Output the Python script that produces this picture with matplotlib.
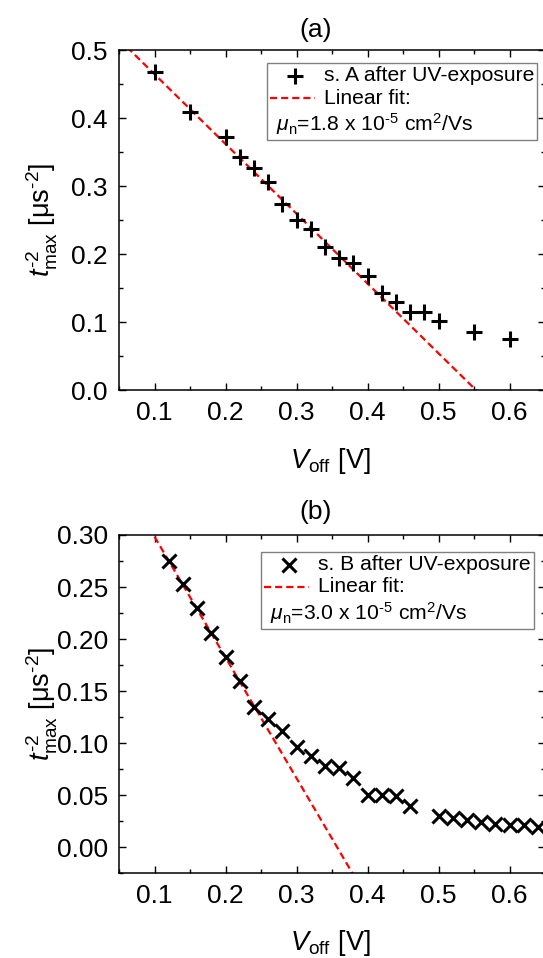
import matplotlib
matplotlib.use("Agg")
import matplotlib.pyplot as plt
from matplotlib.ticker import MultipleLocator, FormatStrFormatter
from matplotlib.offsetbox import AnchoredOffsetbox, VPacker, HPacker, TextArea, DrawingArea
from matplotlib.lines import Line2D
import numpy as np

plt.rcParams['font.family'] = ['Liberation Sans', 'DejaVu Sans']
plt.rcParams['mathtext.fontset'] = 'custom'
plt.rcParams['mathtext.rm'] = 'Liberation Sans'
plt.rcParams['mathtext.it'] = 'Liberation Sans:italic'
plt.rcParams['mathtext.bf'] = 'Liberation Sans:bold'

# (a) sample A after UV exposure
v_a = [0.10, 0.15, 0.20, 0.22, 0.24, 0.26, 0.28, 0.30, 0.32, 0.34,
       0.36, 0.38, 0.40, 0.42, 0.44, 0.46, 0.48, 0.50, 0.55, 0.60]
t_a = [0.467, 0.409, 0.372, 0.342, 0.326, 0.306, 0.274, 0.250, 0.237, 0.211,
       0.194, 0.187, 0.168, 0.142, 0.130, 0.115, 0.115, 0.101, 0.086, 0.075]
fit_a = (0.567, -1.026)   # intercept, slope
mu_a = '1.8'

# (b) sample B after UV exposure
v_b = [0.12, 0.14, 0.16, 0.18, 0.20, 0.22, 0.24, 0.26, 0.28, 0.30,
       0.32, 0.34, 0.36, 0.38, 0.40, 0.42, 0.44, 0.46,
       0.50, 0.52, 0.54, 0.56, 0.58, 0.60, 0.62, 0.64]
t_b = [0.275, 0.253, 0.230, 0.206, 0.183, 0.160, 0.135, 0.123, 0.112, 0.096,
       0.088, 0.078, 0.076, 0.067, 0.050, 0.050, 0.049, 0.040,
       0.030, 0.028, 0.026, 0.024, 0.022, 0.021, 0.021, 0.019]
fit_b = (0.4144, -1.160)
mu_b = '3.0'

FS = 19
LBS = 19.5
LFS = 15.2
W, H = 543, 958
px = 0.72  # pixel -> points at dpi 100

fig = plt.figure(figsize=(W / 100, H / 100), dpi=100)
ax1 = fig.add_axes([119 / W, (H - 390) / H, 426 / W, 340 / H])
ax2 = fig.add_axes([119 / W, (H - 873.3) / H, 426 / W, 338.3 / H])


def style(ax, ymaj, ymin, yfmt):
    ax.xaxis.set_major_locator(MultipleLocator(0.1))
    ax.xaxis.set_minor_locator(MultipleLocator(0.05))
    ax.yaxis.set_major_locator(MultipleLocator(ymaj))
    ax.yaxis.set_minor_locator(MultipleLocator(ymin))
    ax.xaxis.set_major_formatter(FormatStrFormatter('%.1f'))
    ax.yaxis.set_major_formatter(FormatStrFormatter(yfmt))
    ax.tick_params(which='both', direction='in', top=True, right=True,
                   labelsize=FS, width=1.0, pad=8)
    ax.tick_params(which='major', length=5)
    ax.tick_params(which='minor', length=3)
    for s in ax.spines.values():
        s.set_linewidth(1.1)
    ax.set_xlabel(r'$V_{\mathrm{off}}$ [V]', fontsize=LBS)
    ax.set_ylabel(r'$t_{\mathrm{max}}^{\text{-2}}$ [μs$^{\text{-2}}$]', fontsize=LBS)
    ax.yaxis.set_label_coords(-0.138, 0.5)


def legend_box(ax, marker, ms, label, mu, x0, y0):
    da1 = DrawingArea(48 * px, 18 * px)
    da1.add_artist(Line2D([25 * px], [9 * px], marker=marker, ms=ms, mew=2.2,
                          color='k', ls='none'))
    row1 = HPacker(children=[da1, TextArea(label, textprops=dict(fontsize=LFS))],
                   sep=6 * px, align='center')
    da2 = DrawingArea(48 * px, 18 * px)
    da2.add_artist(Line2D([0, 45 * px], [9 * px, 9 * px], color='red', lw=1.6,
                          ls=(0, (3.2, 1.8))))
    row2 = HPacker(children=[da2, TextArea('Linear fit:', textprops=dict(fontsize=LFS))],
                   sep=6 * px, align='center')
    sp = DrawingArea(6 * px, 2)
    row3 = HPacker(children=[sp, TextArea(r'$\mu_{\mathrm{n}}$=' + mu + r' x 10$^{\text{-5}}$ cm$^{2}$/Vs',
                                          textprops=dict(fontsize=LFS))],
                   sep=0, align='center')
    vp = VPacker(children=[row1, row2, row3], align='left', pad=3 * px, sep=3.5 * px)
    box = AnchoredOffsetbox(loc='upper left', child=vp, pad=0, borderpad=0,
                            frameon=True, bbox_to_anchor=(x0 / W, 1 - y0 / H),
                            bbox_transform=fig.transFigure)
    box.patch.set_edgecolor('0.5')
    box.patch.set_linewidth(1.0)
    ax.add_artist(box)


# panel (a)
xf = np.array([0.05, 0.60])
ax1.plot(xf, fit_a[0] + fit_a[1] * xf, color='red', lw=1.6, ls=(0, (3.2, 1.8)))
ax1.plot(v_a, t_a, ls='none', marker='+', ms=12, mew=2.2, color='k')
ax1.set_xlim(0.05, 0.65)
ax1.set_ylim(0.0, 0.5)
style(ax1, 0.1, 0.05, '%.1f')
ax1.xaxis.set_label_coords(0.495, -0.165)
legend_box(ax1, '+', 12, 's. A after UV-exposure', mu_a, 267, 63)
fig.text(316 / W, 1 - 30 / H, '(a)', ha='center', va='center', fontsize=FS)

# panel (b)
xf = np.array([0.10, 0.50])
ax2.plot(xf, fit_b[0] + fit_b[1] * xf, color='red', lw=1.6, ls=(0, (3.2, 1.8)))
ax2.plot(v_b, t_b, ls='none', marker='x', ms=9.5, mew=2.2, color='k')
ax2.set_xlim(0.05, 0.65)
ax2.set_ylim(-0.025, 0.30)
style(ax2, 0.05, 0.025, '%.2f')
ax2.xaxis.set_label_coords(0.495, -0.163)
legend_box(ax2, 'x', 9.5, 's. B after UV-exposure', mu_b, 261, 552)
fig.text(316 / W, 1 - 512 / H, '(b)', ha='center', va='center', fontsize=FS)

fig.savefig('out.png', dpi=100)
